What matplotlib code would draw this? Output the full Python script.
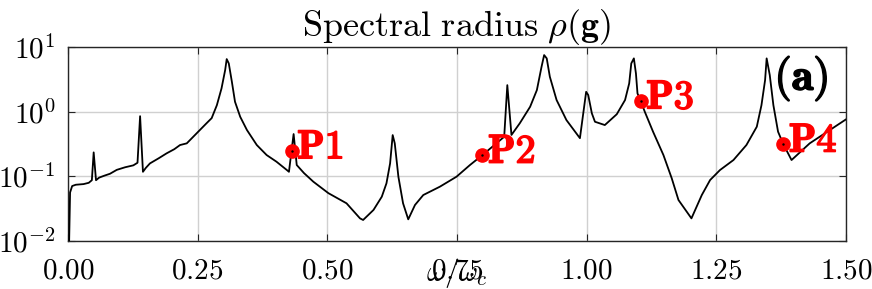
import numpy as np
import matplotlib
matplotlib.use("Agg")
import matplotlib.pyplot as plt
import matplotlib.patheffects as pe
from matplotlib.ticker import FixedLocator, FuncFormatter

plt.rcParams['mathtext.fontset'] = 'cm'
plt.rcParams['font.family'] = ['DejaVu Serif']

# --- data (omega/omega_c, log10 of spectral radius) ---
omega = [0.000, 0.001, 0.004, 0.008, 0.015, 0.030, 0.040, 0.046, 0.0495, 0.054,
         0.060, 0.070, 0.081, 0.094, 0.110, 0.126, 0.134, 0.139, 0.1445, 0.150,
         0.158, 0.175, 0.190, 0.205, 0.216, 0.229, 0.248, 0.267, 0.277, 0.287,
         0.296, 0.303, 0.306, 0.310, 0.316, 0.322, 0.332, 0.345, 0.364, 0.383,
         0.402, 0.422, 0.426, 0.431, 0.435, 0.441, 0.455, 0.473, 0.502, 0.537,
         0.563, 0.569, 0.589, 0.605, 0.614, 0.621, 0.626, 0.630, 0.637, 0.646,
         0.656, 0.669, 0.685, 0.717, 0.749, 0.775, 0.799, 0.826, 0.841, 0.847,
         0.855, 0.871, 0.891, 0.904, 0.913, 0.918, 0.923, 0.929, 0.942, 0.961,
         0.987, 0.999, 1.003, 1.010, 1.016, 1.035, 1.058, 1.074, 1.082, 1.086,
         1.091, 1.095, 1.098, 1.104, 1.112, 1.128, 1.148, 1.164, 1.177, 1.202,
         1.222, 1.238, 1.257, 1.283, 1.308, 1.328, 1.337, 1.344, 1.347, 1.353,
         1.360, 1.369, 1.379, 1.395, 1.430, 1.500, 1.520]
log_rho = [-2.60, -2.50, -1.25, -1.15, -1.13, -1.12, -1.10, -1.06, -0.63, -1.06,
           -1.02, -0.99, -0.96, -0.90, -0.86, -0.83, -0.79, -0.07, -0.93, -0.87,
           -0.80, -0.72, -0.645, -0.58, -0.516, -0.49, -0.335, -0.18, -0.10, 0.10,
           0.36, 0.643, 0.813, 0.746, 0.46, 0.153, -0.079, -0.284, -0.516, -0.671,
           -0.774, -0.903, -0.93, -0.604, -0.346, -0.825, -0.95, -1.083, -1.26, -1.417,
           -1.65, -1.675, -1.52, -1.315, -1.108, -0.80, -0.362, -0.49, -1.006, -1.417,
           -1.665, -1.443, -1.289, -1.16, -1.006, -0.825, -0.671, -0.49, -0.388, 0.41,
           -0.36, -0.18, 0.076, 0.334, 0.694, 0.875, 0.824, 0.54, 0.18, -0.13,
           -0.41, 0.307, 0.257, -0.026, -0.156, -0.207, -0.04, 0.18, 0.437, 0.746,
           0.824, 0.59, 0.282, 0.168, 0.0, -0.31, -0.671, -1.03, -1.366, -1.65,
           -1.289, -1.057, -0.903, -0.748, -0.516, -0.233, 0.10, 0.488, 0.824, 0.566,
           0.10, -0.31, -0.50, -0.748, -0.49, -0.119, -0.05]
rho = [10 ** v for v in log_rho]

point_labels = ["P1", "P2", "P3", "P4"]
point_omega = [0.431, 0.799, 1.104, 1.379]
point_rho = [0.249, 0.213, 1.47, 0.316]

x_ticks = [0.00, 0.25, 0.50, 0.75, 1.00, 1.25, 1.50]
y_ticks = [1e-2, 1e-1, 1e0, 1e1]

fig = plt.figure(figsize=(8.72, 2.89), dpi=100)
ax = fig.add_axes([68/872, 1-241/289, (846-68)/872, (241-47)/289])

ax.plot(omega, rho, color='black', lw=1.3, zorder=3)
ax.plot(point_omega, point_rho, 'o', color='red', ms=9.5, zorder=4)
ax.plot(point_omega, point_rho, '.', color='black', ms=1.5, zorder=5)
bold_fx = [pe.withStroke(linewidth=1.2, foreground='red')]
for lab, xo, yo in zip(point_labels, point_omega, point_rho):
    ax.annotate(r'$\mathbf{%s}$' % lab, (xo, yo), xytext=(4.0, -5.5),
                textcoords='offset points', ha='left', va='baseline',
                color='red', fontsize=29, zorder=6, path_effects=bold_fx)

ax.set_yscale('log')
ax.set_xlim(0, 1.5)
ax.set_ylim(1e-2, 1e1)
ax.xaxis.set_major_locator(FixedLocator(x_ticks))
ax.yaxis.set_major_locator(FixedLocator(y_ticks))
ax.yaxis.set_minor_locator(FixedLocator([]))
ax.xaxis.set_major_formatter(FuncFormatter(lambda v, p: r'$%.2f$' % v))
ax.yaxis.set_major_formatter(FuncFormatter(lambda v, p: r'$10^{%d}$' % int(round(np.log10(v)))))
ax.tick_params(axis='both', which='both', direction='in', top=True, right=True,
               length=5, width=0.8, color='#262626', labelsize=21)
ax.tick_params(axis='x', pad=11)
ax.tick_params(axis='y', pad=9)
ax.grid(True, which='major', color='#d0d0d0', lw=1.0)
ax.set_axisbelow(True)
for s in ax.spines.values():
    s.set_color('#262626')
    s.set_linewidth(1.0)

ax.set_title(r'$\mathrm{Spectral\ radius}\ \rho(\mathbf{g})$', fontsize=26, pad=5)
ax.set_xlabel(r'$\omega/\omega_c$', fontsize=21)
ax.xaxis.set_label_coords(0.5, -0.075)
ax.text(0.977, 0.78, r'$\mathbf{(a)}$', transform=ax.transAxes, ha='right',
        va='baseline', fontsize=32, zorder=7,
        path_effects=[pe.withStroke(linewidth=1.2, foreground='black')])

fig.savefig('out.png', dpi=100)
